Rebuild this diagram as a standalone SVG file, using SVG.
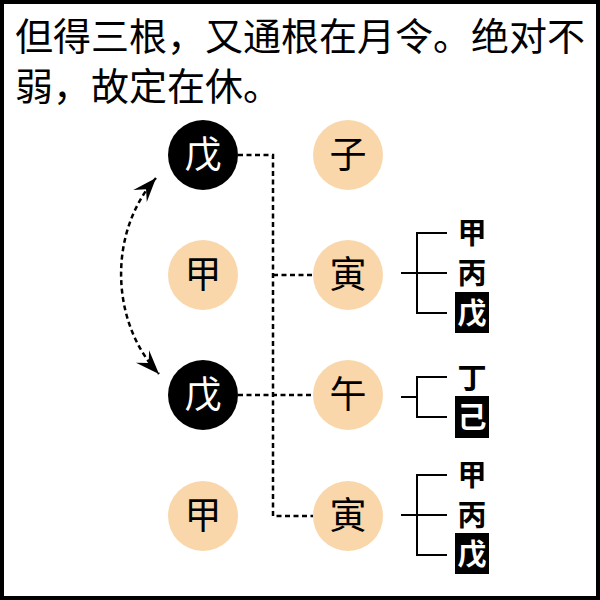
<svg xmlns="http://www.w3.org/2000/svg" width="600" height="600" viewBox="0 0 600 600">
<style>
.title{font-family:"Noto Sans CJK SC","Liberation Sans",sans-serif;font-size:38px;fill:#000}
.peach{fill:#F9D7AA}
.dark{fill:#000}
.ct{font-family:"Noto Sans CJK SC",sans-serif;font-size:37px;font-weight:400;text-anchor:middle}
.dash{fill:none;stroke:#000;stroke-width:2.5;stroke-dasharray:5 3.5}
.br{fill:none;stroke:#000;stroke-width:2}
.lb{font-family:"Noto Sans CJK SC",sans-serif;font-size:29px;font-weight:700;text-anchor:middle}
</style>
<defs>
<marker id="ah" markerUnits="userSpaceOnUse" markerWidth="28" markerHeight="22" viewBox="-25 -11 28 22" refX="0" refY="0" orient="auto-start-reverse">
<path d="M0,0 L-24,-9 L-15,0 L-24,9 Z" fill="#000"/>
</marker>
</defs>
<rect x="0" y="0" width="600" height="600" fill="#fff"/>
<rect x="2" y="2" width="596" height="596" fill="none" stroke="#000" stroke-width="4"/>
<g id="title">
<text class="title" x="15" y="50">但得三根，又通根在月令。绝对不</text>
<text class="title" x="15" y="100">弱，故定在休。</text>
</g>
<g id="connectors">
<path class="dash" d="M238,155 H273 V516 H313"/>
<path class="dash" d="M273,275 H313"/>
<path class="dash" d="M238,395 H313"/>
<path class="dash" d="M156,178 C108,232 110,322 159,374" marker-start="url(#ah)" marker-end="url(#ah)"/>
</g>
<g id="n-wu1"><circle class="dark" cx="203" cy="155" r="35"/><text class="ct" x="203" y="168" fill="#fff">戊</text></g>
<g id="n-jia1"><circle class="peach" cx="203" cy="275" r="35"/><text class="ct" x="203" y="288">甲</text></g>
<g id="n-wu2"><circle class="dark" cx="203" cy="395" r="35"/><text class="ct" x="203" y="408" fill="#fff">戊</text></g>
<g id="n-jia2"><circle class="peach" cx="203" cy="516" r="35"/><text class="ct" x="203" y="529">甲</text></g>
<g id="n-zi"><circle class="peach" cx="348" cy="155" r="35"/><text class="ct" x="348" y="168">子</text></g>
<g id="n-yin1"><circle class="peach" cx="348" cy="275" r="35"/><text class="ct" x="348" y="288">寅</text></g>
<g id="n-wu"><circle class="peach" cx="348" cy="395" r="35"/><text class="ct" x="348" y="408">午</text></g>
<g id="n-yin2"><circle class="peach" cx="348" cy="516" r="35"/><text class="ct" x="348" y="529">寅</text></g>
<g id="b-yin1">
<path class="br" d="M401,273 H447 M447,233 H417 V313 H447"/>
<text class="lb" x="472" y="244">甲</text>
<text class="lb" x="472" y="284">丙</text>
<rect x="455" y="292" width="34" height="41" fill="#000"/>
<text class="lb" x="472" y="324" fill="#fff">戊</text>
</g>
<g id="b-wu">
<path class="br" d="M401,397 H417 M447,377 H417 V417 H447"/>
<text class="lb" x="472" y="389">丁</text>
<rect x="455" y="396" width="34" height="42" fill="#000"/>
<text class="lb" x="472" y="428" fill="#fff">己</text>
</g>
<g id="b-yin2">
<path class="br" d="M401,515 H447 M447,475 H417 V555 H447"/>
<text class="lb" x="472" y="486">甲</text>
<text class="lb" x="472" y="526">丙</text>
<rect x="455" y="533" width="34" height="41" fill="#000"/>
<text class="lb" x="472" y="565" fill="#fff">戊</text>
</g>
</svg>
